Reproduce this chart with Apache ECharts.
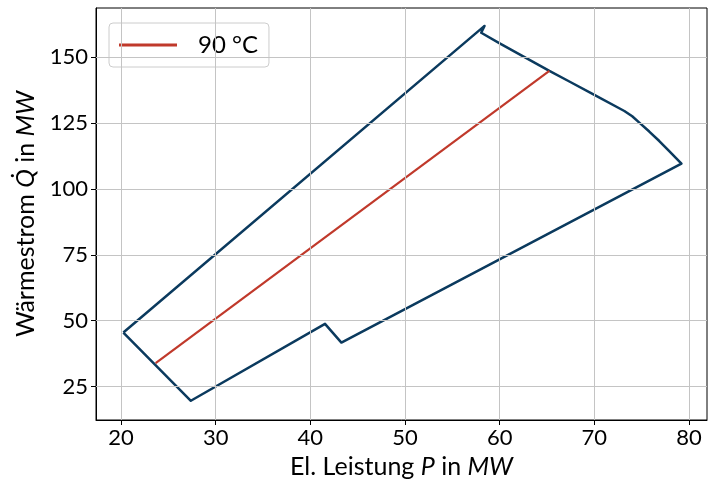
<!DOCTYPE html>
<html><head><meta charset="utf-8">
<script src="https://cdn.jsdelivr.net/npm/echarts@6/dist/echarts.min.js"></script>
<style>html,body{margin:0;padding:0;background:#fff}#chart{width:708px;height:486px}</style>
</head><body><div id="chart"></div>
<script>
// Operating envelope of the plant (electric power P vs. heat flow Q), in MW
const envelopeP = [20.25, 27.38, 41.55, 43.28, 79.2, 77.91, 76.86, 75.8, 74.75, 74.0, 73.17, 70.0, 67.36, 65.25, 60.0, 58.05, 58.4, 20.25];
const envelopeQ = [45.5, 19.6, 48.8, 41.7, 109.6, 114.4, 118.2, 121.8, 125.2, 127.6, 129.6, 135.7, 140.8, 144.8, 155.3, 159.3, 161.9, 45.5];
// 90 °C supply temperature line
const lineP = [23.66, 65.25];
const lineQ = [33.9, 144.8];
const lineName = '90 °C';
const xTicks = [20, 30, 40, 50, 60, 70, 80];
const yTicks = [25, 50, 75, 100, 125, 150];

const font = 'Lato';
const zip = (a, b) => a.map((v, i) => [v, b[i]]);
const chart = echarts.init(document.getElementById('chart'), null, { renderer: 'canvas' });

const nameRich = {
  n: { fontSize: 25, fontFamily: font, color: '#000' },
  i: { fontSize: 25, fontFamily: font, fontStyle: 'italic', color: '#000' }
};

chart.setOption({
  animation: false,
  grid: { left: 96, right: 1, top: 8, bottom: 66, show: true, borderColor: '#000', borderWidth: 1, backgroundColor: 'transparent' },
  legend: {
    data: [{ name: lineName, icon: 'rect' }], left: 109, top: 23, orient: 'vertical',
    itemWidth: 58, itemHeight: 3,
    padding: [10, 11, 10, 10],
    borderColor: '#cccccc', borderWidth: 1, borderRadius: 4,
    backgroundColor: 'rgba(255,255,255,0.8)',
    textStyle: { fontSize: 24, fontFamily: font, color: '#000', padding: [0, 0, 0, 16] }
  },
  xAxis: {
    type: 'value', min: 17.36, max: 81.9,
    splitLine: { show: false },
    axisLine: { show: true, onZero: false, lineStyle: { color: '#000', width: 1 } },
    axisTick: { show: true, customValues: xTicks, length: 5, lineStyle: { color: '#000' } },
    axisLabel: { customValues: xTicks, fontSize: 22, fontFamily: font, color: '#000', margin: 7 },
    name: '{n|El. Leistung }{i|P}{n| in }{i|MW}', nameLocation: 'middle', nameGap: 34,
    nameTextStyle: { rich: nameRich }
  },
  yAxis: {
    type: 'value', min: 12.3, max: 168.7,
    splitLine: { show: false },
    axisLine: { show: true, onZero: false, lineStyle: { color: '#000', width: 1 } },
    axisTick: { show: true, customValues: yTicks, length: 5, lineStyle: { color: '#000' } },
    axisLabel: { customValues: yTicks, fontSize: 22, fontFamily: font, color: '#000', margin: 8 },
    name: '{n|Wärmestrom }{i|Q̇}{n| in }{i|MW}', nameLocation: 'middle', nameGap: 58,
    nameTextStyle: { rich: nameRich }
  },
  series: [
    {
      name: 'grid', type: 'line', z: 1, silent: true, showSymbol: false,
      data: [[xTicks[0], yTicks[0]]], lineStyle: { opacity: 0 },
      markLine: {
        silent: true, symbol: 'none', label: { show: false },
        lineStyle: { color: '#c4c4c4', width: 1, type: 'solid' },
        data: xTicks.map(v => ({ xAxis: v })).concat(yTicks.map(v => ({ yAxis: v })))
      }
    },
    {
      name: 'envelope', type: 'line', z: 3, showSymbol: false, symbol: 'none',
      data: zip(envelopeP, envelopeQ),
      lineStyle: { color: '#0b3a5e', width: 2.5, join: 'round' }
    },
    {
      name: lineName, type: 'line', z: 3, showSymbol: false, symbol: 'none',
      data: zip(lineP, lineQ),
      itemStyle: { color: '#c0392b' },
      lineStyle: { color: '#c0392b', width: 2.2 }
    }
  ]
});
</script></body></html>
